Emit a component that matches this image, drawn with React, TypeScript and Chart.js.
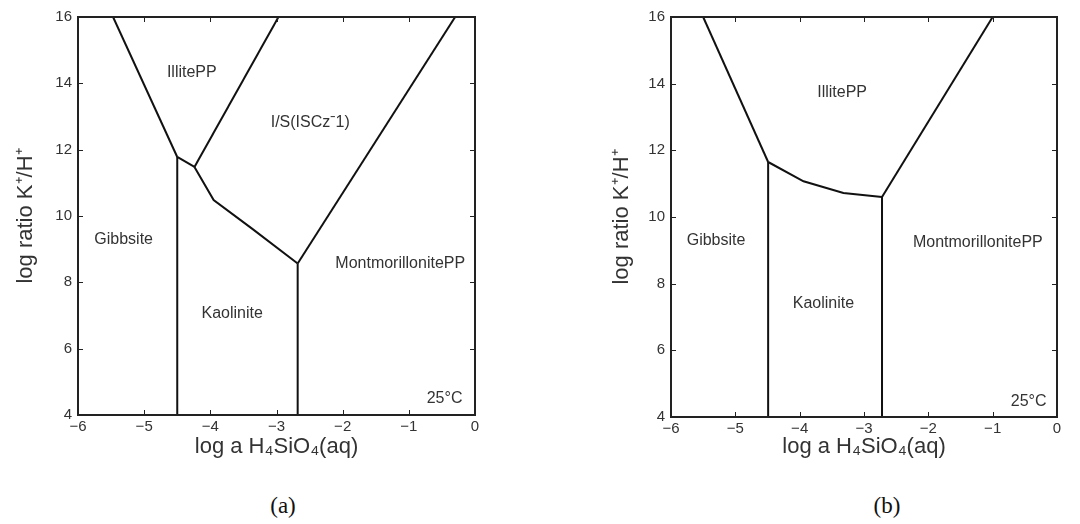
import React, { useEffect, useRef } from "react";
import { Chart, registerables } from "chart.js";

Chart.register(...registerables);

// ---- axes ----
const xTickValues = [-6, -5, -4, -3, -2, -1, 0];
const yTickValues = [4, 6, 8, 10, 12, 14, 16];
const xTitle = "log a H₄SiO₄(aq)";
const yTitle = "log ratio K⁺/H⁺";

// ---- panel (a) boundaries ----
const aGibbsiteIlliteX = [-5.47, -4.5];
const aGibbsiteIlliteY = [16, 11.78];
const aGibbsiteKaoliniteX = [-4.5, -4.5];
const aGibbsiteKaoliniteY = [11.78, 4];
const aKaoliniteIlliteX = [-4.5, -4.24];
const aKaoliniteIlliteY = [11.78, 11.48];
const aIlliteISX = [-4.24, -2.97];
const aIlliteISY = [11.48, 16];
const aKaoliniteISX = [-4.24, -3.95, -3.37, -2.68];
const aKaoliniteISY = [11.48, 10.48, 9.62, 8.57];
const aKaoliniteMontX = [-2.68, -2.68];
const aKaoliniteMontY = [8.57, 4];
const aISMontX = [-2.68, -0.3];
const aISMontY = [8.57, 16];

const aLabelText = ["IllitePP", "I/S(ISCzˉ1)", "Gibbsite", "Kaolinite", "MontmorillonitePP", "25°C"];
const aLabelX = [-4.28, -2.49, -5.31, -3.67, -1.13, -0.46];
const aLabelY = [14.31, 12.82, 9.3, 7.06, 8.57, 4.5];

// ---- panel (b) boundaries ----
const bGibbsiteIlliteX = [-5.5, -4.49];
const bGibbsiteIlliteY = [16, 11.65];
const bGibbsiteKaoliniteX = [-4.49, -4.49];
const bGibbsiteKaoliniteY = [11.65, 4];
const bKaoliniteIlliteX = [-4.49, -3.94, -3.32, -2.72];
const bKaoliniteIlliteY = [11.65, 11.07, 10.72, 10.6];
const bKaoliniteMontX = [-2.72, -2.72];
const bKaoliniteMontY = [10.6, 4];
const bIlliteMontX = [-2.72, -1.0];
const bIlliteMontY = [10.6, 16];

const bLabelText = ["IllitePP", "Gibbsite", "Kaolinite", "MontmorillonitePP", "25°C"];
const bLabelX = [-3.34, -5.3, -3.63, -1.23, -0.44];
const bLabelY = [13.72, 9.3, 7.4, 9.22, 4.47];

const SANS = "'Liberation Sans', Arial, Helvetica, sans-serif";
const INK = "#222";
const TEXT = "#333";

function toPoints(xs: number[], ys: number[]) {
  return xs.map((x, i) => ({ x, y: ys[i] }));
}

function makeDataset(xs: number[], ys: number[]) {
  return {
    data: toPoints(xs, ys),
    showLine: true,
    borderColor: "#111",
    borderWidth: 2,
    pointRadius: 0,
    fill: false,
    tension: 0,
  };
}

const fmt = (v: number) => (v < 0 ? "\u2212" + Math.abs(v) : String(v));

function frameAndLabels(texts: string[], xs: number[], ys: number[]) {
  return {
    id: "frameAndLabels",
    afterDatasetsDraw(chart: any) {
      const { ctx, chartArea, scales } = chart;
      const { left, right, top, bottom } = chartArea;
      ctx.save();
      // inward ticks
      ctx.strokeStyle = INK;
      ctx.lineWidth = 1;
      const tl = 5;
      xTickValues.forEach((v) => {
        const px = Math.round(scales.x.getPixelForValue(v)) + 0.5;
        ctx.beginPath();
        ctx.moveTo(px, bottom);
        ctx.lineTo(px, bottom - tl);
        ctx.moveTo(px, top);
        ctx.lineTo(px, top + tl);
        ctx.stroke();
      });
      yTickValues.forEach((v) => {
        const py = Math.round(scales.y.getPixelForValue(v)) + 0.5;
        ctx.beginPath();
        ctx.moveTo(left, py);
        ctx.lineTo(left + tl, py);
        ctx.moveTo(right, py);
        ctx.lineTo(right - tl, py);
        ctx.stroke();
      });
      // frame
      ctx.lineWidth = 2;
      ctx.strokeRect(left, top, right - left, bottom - top);
      // region labels
      ctx.fillStyle = TEXT;
      ctx.font = `16px ${SANS}`;
      ctx.textAlign = "center";
      ctx.textBaseline = "middle";
      texts.forEach((t, i) => {
        ctx.fillText(t, scales.x.getPixelForValue(xs[i]), scales.y.getPixelForValue(ys[i]));
      });
      ctx.restore();
    },
  };
}

function makeConfig(
  datasets: any[],
  texts: string[],
  lx: number[],
  ly: number[],
  pad: { left: number; right: number; top: number; bottom: number },
  yWidth: number,
  xHeight: number
): any {
  return {
    type: "scatter",
    data: { datasets },
    options: {
      animation: false,
      responsive: false,
      events: [],
      layout: { padding: pad },
      plugins: { legend: { display: false }, tooltip: { enabled: false } },
      scales: {
        x: {
          type: "linear",
          min: -6,
          max: 0,
          afterFit: (s: any) => {
            s.height = xHeight;
          },
          afterBuildTicks: (s: any) => {
            s.ticks = xTickValues.map((v) => ({ value: v }));
          },
          grid: { display: false, drawTicks: false },
          border: { display: false },
          ticks: {
            padding: 3,
            color: TEXT,
            font: { family: SANS, size: 15 },
            callback: (v: any) => fmt(Number(v)),
            maxRotation: 0,
            autoSkip: false,
          },
          title: {
            display: true,
            text: xTitle,
            color: TEXT,
            font: { family: SANS, size: 22 },
            padding: { top: 0, bottom: 2 },
          },
        },
        y: {
          type: "linear",
          min: 4,
          max: 16,
          afterFit: (s: any) => {
            s.width = yWidth;
          },
          afterBuildTicks: (s: any) => {
            s.ticks = yTickValues.map((v) => ({ value: v }));
          },
          grid: { display: false, drawTicks: false },
          border: { display: false },
          ticks: {
            padding: 6,
            color: TEXT,
            font: { family: SANS, size: 15 },
            callback: (v: any) => fmt(Number(v)),
            autoSkip: false,
          },
          title: {
            display: true,
            text: yTitle,
            color: TEXT,
            font: { family: SANS, size: 22 },
            padding: { top: 4, bottom: 0 },
          },
        },
      },
    },
    plugins: [frameAndLabels(texts, lx, ly)],
  };
}

export default function App() {
  const refA = useRef<HTMLCanvasElement | null>(null);
  const refB = useRef<HTMLCanvasElement | null>(null);

  useEffect(() => {
    const dsA = [
      makeDataset(aGibbsiteIlliteX, aGibbsiteIlliteY),
      makeDataset(aGibbsiteKaoliniteX, aGibbsiteKaoliniteY),
      makeDataset(aKaoliniteIlliteX, aKaoliniteIlliteY),
      makeDataset(aIlliteISX, aIlliteISY),
      makeDataset(aKaoliniteISX, aKaoliniteISY),
      makeDataset(aKaoliniteMontX, aKaoliniteMontY),
      makeDataset(aISMontX, aISMontY),
    ];
    const dsB = [
      makeDataset(bGibbsiteIlliteX, bGibbsiteIlliteY),
      makeDataset(bGibbsiteKaoliniteX, bGibbsiteKaoliniteY),
      makeDataset(bKaoliniteIlliteX, bKaoliniteIlliteY),
      makeDataset(bKaoliniteMontX, bKaoliniteMontY),
      makeDataset(bIlliteMontX, bIlliteMontY),
    ];
    const chartA = new Chart(
      refA.current as HTMLCanvasElement,
      makeConfig(dsA, aLabelText, aLabelX, aLabelY, { left: 9, right: 65, top: 17, bottom: 0 }, 69, 47)
    );
    const chartB = new Chart(
      refB.current as HTMLCanvasElement,
      makeConfig(dsB, bLabelText, bLabelX, bLabelY, { left: 65, right: 23, top: 17, bottom: 0 }, 66, 45)
    );
    return () => {
      chartA.destroy();
      chartB.destroy();
    };
  }, []);

  const caption: React.CSSProperties = {
    position: "absolute",
    top: 491,
    width: 60,
    textAlign: "center",
    fontFamily: "'Liberation Serif', 'Times New Roman', serif",
    fontSize: 23,
    lineHeight: "30px",
    color: "#111",
  };

  return (
    <div style={{ position: "absolute", left: 0, top: 0, width: 1080, height: 524, background: "#fff", overflow: "hidden" }}>
      <canvas ref={refA} width={540} height={462} style={{ position: "absolute", left: 0, top: 0 }} />
      <canvas ref={refB} width={540} height={462} style={{ position: "absolute", left: 540, top: 0 }} />
      <div style={{ ...caption, left: 283 - 30 }}>(a)</div>
      <div style={{ ...caption, left: 887 - 30 }}>(b)</div>
    </div>
  );
}
